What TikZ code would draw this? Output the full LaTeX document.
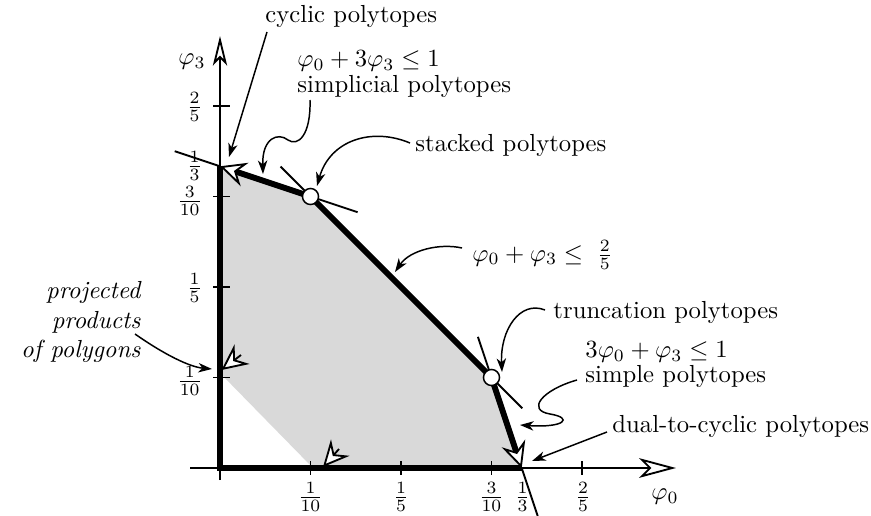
\documentclass[tikz,border=0pt]{standalone}
\usetikzlibrary{arrows.meta,calc}
\begin{document}
\begin{tikzpicture}[x=0.405pt,y=-0.405pt,
  thinline/.style={line width=0.75pt},
  thickline/.style={line width=2.4pt},
  tickline/.style={line width=0.75pt},
  ann/.style={line width=0.6pt,-{Stealth[length=5.5pt,width=3.8pt,inset=1.6pt]}},
  openhead/.style={line width=0.75pt,-{Stealth[fill=white,length=10.5pt,width=10pt,inset=3.6pt]}},
  vertex/.style={circle,draw,fill=white,line width=0.6pt,minimum size=6.5pt,inner sep=0pt},
  lbl/.style={inner sep=0pt}]
\useasboundingbox (0,0) rectangle (871,516);
% key points
\coordinate (O) at (220,468);
\coordinate (Ytop) at (220,166.3);
\coordinate (S) at (310.5,196.5);
\coordinate (T) at (491.5,377.5);
\coordinate (Xend) at (521.7,468);
\coordinate (A) at (220,373);
\coordinate (B) at (313,468);
% gray region
\fill[gray!30] (A) -- (Ytop) -- (S) -- (T) -- (Xend) -- (B) -- cycle;
% axes
\coordinate (xs) at (190,468); \coordinate (xe) at (676,468);
\coordinate (ys) at (220,480); \coordinate (ye) at (220,36);
\draw[thinline,-{Stealth[open,length=15pt,width=8pt,inset=4pt]}] (xs) -- (xe);
\draw[thinline,-{Stealth[open,length=12pt,width=5.8pt,inset=3pt]}] (ys) -- (ye);
% extension lines
\coordinate (e1) at (174.75,151.2);
\coordinate (e2) at (280.5,166.5);
\coordinate (e3) at (357.6,212.2);
\coordinate (e4) at (477.9,336.8);
\coordinate (e5) at (522.3,408.3);
\coordinate (e6) at (537.7,516);
\draw[thinline] (e1) -- (Ytop);
\draw[thinline] (e2) -- (S);
\draw[thinline] (S) -- (e3);
\draw[thinline] (e4) -- (T);
\draw[thinline] (T) -- (e5);
\draw[thinline] (Xend) -- (e6);
% thick boundary
\draw[thickline] (Ytop) -- (O) -- (Xend);
\draw[thickline] (S) -- (T);
\draw[thickline,shorten >=4pt] (S) -- (Ytop);
\draw[thickline,shorten >=4pt] (T) -- (Xend);
% ticks
\foreach \x in {310.5,401,491.5,582} \draw[tickline] (\x,461) -- (\x,475);
\foreach \y in {377.5,287,196.5,106} \draw[tickline] (213,\y) -- (230,\y);
% open arrowheads
\draw[openhead] ($(Ytop)!11pt!(S)$) -- (Ytop);
\draw[openhead] ($(Xend)!11pt!(T)$) -- (Xend);
\coordinate (h1b) at (241,355); \coordinate (h1t) at (221.5,370);
\coordinate (h2b) at (339,449); \coordinate (h2t) at (323,467);
\draw[openhead] (h1b) -- (h1t);
\draw[openhead] (h2b) -- (h2t);
% vertices
\node[vertex] (Sv) at (S) {};
\node[vertex] (Tv) at (T) {};
% tick labels
\node[lbl] (lx1) at (310.5,497) {$\frac{1}{10}$};
\node[lbl] (lx2) at (401,497) {$\frac{1}{5}$};
\node[lbl] (lx3) at (491.5,497) {$\frac{3}{10}$};
\node[lbl] (lx4) at (522.5,497) {$\frac{1}{3}$};
\node[lbl] (lx5) at (583,497) {$\frac{2}{5}$};
\node[lbl,anchor=east] (ly1) at (203,381) {$\frac{1}{10}$};
\node[lbl,anchor=east] (ly2) at (203,288) {$\frac{1}{5}$};
\node[lbl,anchor=east] (ly3) at (203,201) {$\frac{3}{10}$};
\node[lbl,anchor=east] (ly4) at (203,166) {$\frac{1}{3}$};
\node[lbl,anchor=east] (ly5) at (203,107) {$\frac{2}{5}$};
\node[lbl] (phi3) at (192,62) {$\varphi_3$};
\node[lbl] (phi0) at (665,497) {$\varphi_0$};
% text labels
\node[lbl,anchor=west] (cyc) at (265,16) {cyclic polytopes};
\node[lbl,anchor=west] (simpm) at (297,61) {$\varphi_0+3\varphi_3\le 1$};
\node[lbl,anchor=west] (simp) at (297,86) {simplicial polytopes};
\node[lbl,anchor=west] (stack) at (415,145) {stacked polytopes};
\node[lbl,anchor=west] (mid) at (472,255) {$\varphi_0+\varphi_3\le\;\frac{2}{5}$};
\node[lbl,anchor=west] (trunc) at (553,312) {truncation polytopes};
\node[lbl,anchor=west] (simplem) at (585,352) {$3\varphi_0+\varphi_3\le 1$};
\node[lbl,anchor=west] (simple) at (585,376) {simple polytopes};
\node[lbl,anchor=west] (dual) at (612,426) {dual-to-cyclic polytopes};
\node[lbl,anchor=east,align=right,font=\itshape] (proj) at (141,322) {projected\\products\\of polygons};
% annotation arrows
\coordinate (c1s) at (267,32); \coordinate (c1t) at (229,157);
\draw[ann] (c1s) -- (c1t);
\coordinate (c2s) at (310,100); \coordinate (c2t) at (263,174);
\draw[ann] (c2s) .. controls (311,135) and (298,147) .. (288,140) .. controls (278,132) and (262,138) .. (c2t);
\coordinate (c3s) at (410,143); \coordinate (c3t) at (317,186);
\draw[ann] (c3s) .. controls (372,127) and (330,140) .. (c3t);
\coordinate (c4s) at (462,248); \coordinate (c4t) at (395,272);
\draw[ann] (c4s) .. controls (440,243) and (410,250) .. (c4t);
\coordinate (c5s) at (545,310); \coordinate (c5t) at (502,372);
\draw[ann] (c5s) .. controls (520,300) and (500,330) .. (c5t);
\coordinate (c6s) at (577,380); \coordinate (c6t) at (520,425);
\draw[ann] (c6s) .. controls (542,390) and (526,410) .. (550,414) .. controls (574,418) and (564,428) .. (c6t);
\coordinate (c7s) at (607,432); \coordinate (c7t) at (532,461);
\draw[ann] (c7s) -- (c7t);
\coordinate (c8s) at (135,334); \coordinate (c8t) at (212,369);
\draw[ann] (c8s) .. controls (165,355) and (190,367) .. (c8t);
\end{tikzpicture}
\end{document}
